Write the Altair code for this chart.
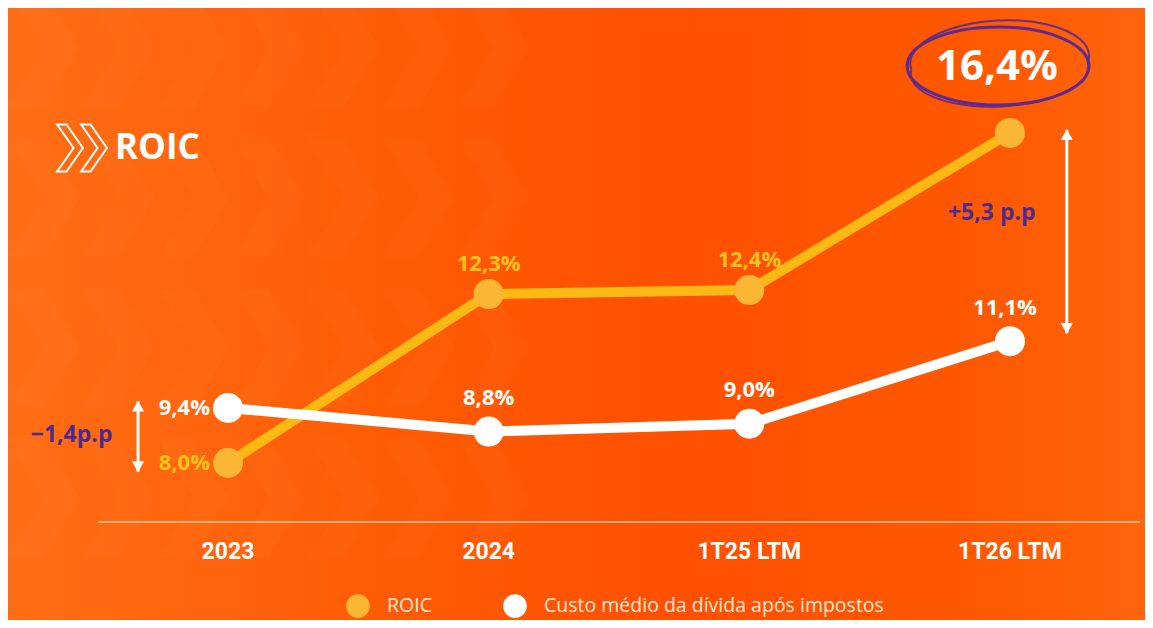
import altair as alt
import pandas as pd
import json

categories = ["2023", "2024", "1T25 LTM", "1T26 LTM"]
roic = [8.0, 12.3, 12.4, 16.4]
custo = [9.4, 8.8, 9.0, 11.1]
series_names = ["ROIC", "Custo médio da dívida após impostos"]

W, H = 1137, 612
YELLOW = "#FDB913"
YELLOW_PT = "#FBB634"
YELLOW_TXT = "#FFC21F"
PURPLE = "#4E2A8E"
FONT = "Open Sans"

rows = []
for i, c in enumerate(categories):
    rows.append({"idx": i, "cat": c, "series": series_names[0], "v": roic[i]})
for i, c in enumerate(categories):
    rows.append({"idx": i, "cat": c, "series": series_names[1], "v": custo[i]})
df = pd.DataFrame(rows)

xs = alt.Scale(domain=[-0.844, 3.518], nice=False, zero=False)
ys = alt.Scale(domain=[4.004, 19.58], nice=False, zero=False)
X = alt.X("idx:Q", scale=xs, axis=None)
Y = alt.Y("v:Q", scale=ys, axis=None)
color = alt.Color(
    "series:N",
    scale=alt.Scale(domain=series_names, range=[YELLOW_PT, "#FFFFFF"]),
    legend=alt.Legend(
        orient="none", legendX=338, legendY=586, direction="horizontal",
        title=None, symbolType="circle", symbolSize=560, symbolStrokeWidth=0,
        symbolOpacity=1, labelFont=FONT, labelFontSize=19.5, labelColor="#FFE6D8",
        labelOffset=17, columnPadding=71, labelLimit=0,
    ),
)

base = alt.Chart(df)

bg = alt.Chart(pd.DataFrame({"a": [0]})).mark_rect(
    fill=alt.LinearGradient(
        gradient="linear", x1=0, y1=0, x2=1, y2=0,
        stops=[
            alt.GradientStop(color="#FF6E14", offset=0),
            alt.GradientStop(color="#FF5A04", offset=0.35),
            alt.GradientStop(color="#FF5000", offset=0.6),
            alt.GradientStop(color="#FF5800", offset=0.85),
            alt.GradientStop(color="#FF640C", offset=1),
        ],
    )
).encode(x=alt.value(0), x2=alt.value(W), y=alt.value(0), y2=alt.value(H))

# faint chevron texture
chev_rows = []
for r in range(4):
    for k in range(7):
        chev_rows.append({"cx": 30 + k * 75, "cy": 40 + r * 150})
chev_df = pd.DataFrame(chev_rows)
chevrons = alt.Chart(chev_df).mark_point(
    shape="M -0.5,-1 L 0.1,-1 L 0.7,0 L 0.1,1 L -0.5,1 L 0.1,0 Z",
    filled=True, fill="#FFFFFF", opacity=0.02, size=14000, strokeWidth=0,
).encode(x=alt.X("cx:Q", scale=alt.Scale(domain=[0, W], range=[0, W], nice=False), axis=None),
         y=alt.Y("cy:Q", scale=alt.Scale(domain=[0, H], range=[0, H], nice=False), axis=None))

baseline = alt.Chart(pd.DataFrame({"v": [6.5]})).mark_rule(
    color="#FFD2B8", strokeWidth=1.5, opacity=0.85
).encode(x=alt.value(90), x2=alt.value(1132), y=alt.Y("v:Q", scale=ys, axis=None))

cat_labels = alt.Chart(pd.DataFrame({"idx": list(range(4)), "cat": categories, "v": [5.73] * 4})).mark_text(
    font="Roboto", fontSize=23, fontWeight="bold", color="#FFFFFF"
).encode(x=X, y=Y, text="cat:N")

line_r = base.transform_filter(alt.datum.series == series_names[0]).mark_line(
    color=YELLOW, strokeWidth=10
).encode(x=X, y=Y)
pts_r = base.transform_filter(alt.datum.series == series_names[0]).mark_point(
    filled=True, size=900, opacity=1, strokeWidth=0
).encode(x=X, y=Y, color=color)
line_c = base.transform_filter(alt.datum.series == series_names[1]).mark_line(
    color="#FFFFFF", strokeWidth=10
).encode(x=X, y=Y)
pts_c = base.transform_filter(alt.datum.series == series_names[1]).mark_point(
    filled=True, size=900, opacity=1, strokeWidth=0
).encode(x=X, y=Y, color=color)

lab_expr = "replace(format(datum.v, '.1f'), '.', ',') + '%'"

def labels(series, cats, col, size=22, **kw):
    expr = f"datum.series == {json.dumps(series)} && indexof({json.dumps(cats)}, datum.cat) >= 0"
    return base.transform_filter(expr).transform_calculate(lab=lab_expr).mark_text(
        font=FONT, fontWeight="bold", fontSize=size, color=col, **kw
    ).encode(x=X, y=Y, text="lab:N")

lab_r_up = labels(series_names[0], ["2024", "1T25 LTM"], YELLOW_TXT, dy=-30)
lab_r_left = labels(series_names[0], ["2023"], YELLOW_TXT, dx=-18, align="right")
lab_c_up = labels(series_names[1], ["2024", "1T25 LTM"], "#FFFFFF", dy=-34)
lab_c_last = labels(series_names[1], ["1T26 LTM"], "#FFFFFF", dy=-33, dx=-5)
lab_c_left = labels(series_names[1], ["2023"], "#FFFFFF", dx=-18, align="right")
lab_big = labels(series_names[0], ["1T26 LTM"], "#FFFFFF", size=42, dy=-66, dx=-13)

# hand-drawn ellipse around the highlight
ell_base = base.transform_filter(
    f"datum.series == {json.dumps(series_names[0])} && datum.cat == '1T26 LTM'"
)
ellipse1 = ell_base.mark_point(
    shape="M -1,0 A 1,0.43 0 1,0 1,0 A 1,0.43 0 1,0 -1,0",
    filled=False, stroke="#5B2A92", strokeWidth=3, size=33000, opacity=1,
    yOffset=-67, xOffset=-12,
).encode(x=X, y=Y)
ellipse2 = ell_base.mark_point(
    shape="M -0.98,0.05 A 1,0.41 -3 1,0 1,-0.05 A 1,0.44 -3 1,0 -0.98,0.05",
    filled=False, stroke="#5B2A92", strokeWidth=2, size=32000, opacity=0.9,
    yOffset=-68, xOffset=-11,
).encode(x=X, y=Y)

# difference arrows
arrows = pd.DataFrame({
    "idx": [0 - 0.345, 3 + 0.218],
    "top": [custo[0] + 0.17, roic[3] + 0.08],
    "bot": [roic[0] - 0.22, custo[3] + 0.2],
})
arr_line = alt.Chart(arrows).mark_rule(color="#FFFFFF", strokeWidth=3).encode(
    x=X, y=alt.Y("top:Q", scale=ys, axis=None), y2="bot:Q")
arr_up = alt.Chart(arrows).mark_point(
    shape="triangle-up", filled=True, color="#FFFFFF", size=150, opacity=1, yOffset=5
).encode(x=X, y=alt.Y("top:Q", scale=ys, axis=None))
arr_dn = alt.Chart(arrows).mark_point(
    shape="triangle-down", filled=True, color="#FFFFFF", size=150, opacity=1, yOffset=-5
).encode(x=X, y=alt.Y("bot:Q", scale=ys, axis=None))

diffs = pd.DataFrame({
    "idx": [0 - 0.6, 3 - 0.07],
    "v": [(custo[0] + roic[0]) / 2, 14.36],
    "t": ["\u22121,4p.p", "+5,3 p.p"],
})
diff_txt = alt.Chart(diffs).mark_text(
    font=FONT, fontWeight="bold", fontSize=23, color=PURPLE
).encode(x=X, y=alt.Y("v:Q", scale=ys, axis=None), text="t:N")

# title with chevron icon
title_txt = alt.Chart(pd.DataFrame({"t": ["ROIC"]})).mark_text(
    font=FONT, fontWeight="bold", fontSize=35, color="#FFFFFF", align="left"
).encode(x=alt.value(107), y=alt.value(140), text="t:N")
icon = alt.Chart(pd.DataFrame({"k": [0, 1]})).mark_point(
    shape="M -0.55,-1 L -0.15,-1 L 0.55,0 L -0.15,1 L -0.55,1 L 0.15,0 Z",
    filled=False, stroke="#FFFFFF", strokeWidth=2, size=2200, opacity=1,
).encode(x=alt.X("k:Q", scale=alt.Scale(domain=[0, 1], range=[62, 86]), axis=None),
         y=alt.value(140))

chart = alt.layer(
    bg, chevrons, baseline, cat_labels,
    line_r, pts_r, line_c, pts_c,
    lab_r_up, lab_r_left, lab_c_up, lab_c_last, lab_c_left, lab_big,
    ellipse1, ellipse2, arr_line, arr_up, arr_dn, diff_txt, title_txt, icon,
).resolve_scale(x="independent", y="independent").properties(
    width=W, height=H, padding=0, autosize=alt.AutoSizeParams(type="none")
).configure_view(stroke=None)

chart.save("out.html", embed_options={"renderer": "svg", "actions": False})
